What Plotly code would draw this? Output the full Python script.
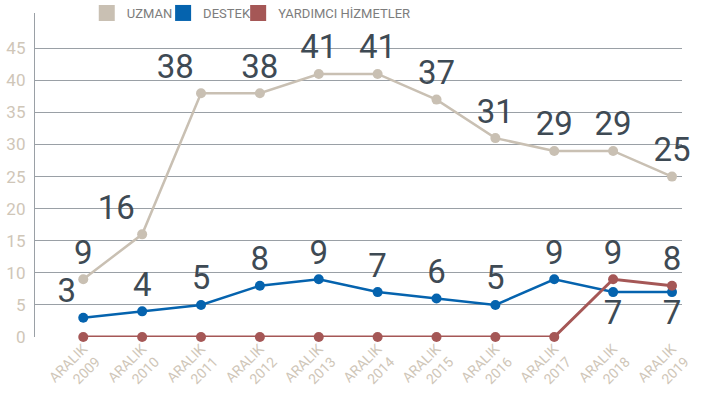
import plotly.graph_objects as go

categories = ["ARALIK<br>2009", "ARALIK<br>2010", "ARALIK<br>2011", "ARALIK<br>2012",
              "ARALIK<br>2013", "ARALIK<br>2014", "ARALIK<br>2015", "ARALIK<br>2016",
              "ARALIK<br>2017", "ARALIK<br>2018", "ARALIK<br>2019"]
uzman = [9, 16, 38, 38, 41, 41, 37, 31, 29, 29, 25]
destek = [3, 4, 5, 8, 9, 7, 6, 5, 9, 7, 7]
yardimci = [0, 0, 0, 0, 0, 0, 0, 0, 0, 9, 8]
yardimci_labels = ["", "", "", "", "", "", "", "", "", "9", "8"]
y_ticks = [0, 5, 10, 15, 20, 25, 30, 35, 40, 45]

C_UZ = "#c9c0b3"
C_DE = "#0563ae"
C_YA = "#a55756"
LABEL = "#3e4a54"
TICK = "#cfc6b8"
GRID = "#9aa0a6"
FONT = "Roboto"

lab_font = dict(family=FONT, size=33, color=LABEL)

fig = go.Figure()

fig.add_trace(go.Scatter(
    x=categories, y=uzman, mode="lines+markers+text",
    text=[str(v) for v in uzman],
    textposition=["top center", "top left", "top left"] + ["top center"] * 8,
    textfont=lab_font,
    line=dict(color=C_UZ, width=2.5), marker=dict(color=C_UZ, size=10),
    showlegend=False, cliponaxis=False))

fig.add_trace(go.Scatter(
    x=categories, y=destek, mode="lines+markers+text",
    text=[str(v) for v in destek],
    textposition=["top left"] + ["top center"] * 8 + ["bottom center"] * 2,
    textfont=lab_font,
    line=dict(color=C_DE, width=2.5), marker=dict(color=C_DE, size=10),
    showlegend=False, cliponaxis=False))

fig.add_trace(go.Scatter(
    x=categories, y=yardimci, mode="lines+markers+text",
    text=yardimci_labels,
    textposition="top center",
    textfont=lab_font,
    line=dict(color=C_YA, width=3), marker=dict(color=C_YA, size=10),
    showlegend=False, cliponaxis=False))

legend_items = [("UZMAN", C_UZ, "legend"), ("DESTEK", C_DE, "legend2"),
                ("YARDIMCI HİZMETLER", C_YA, "legend3")]
for name, col, lg in legend_items:
    fig.add_trace(go.Scatter(
        x=[None], y=[None], mode="markers", name=name, legend=lg,
        marker=dict(color=col, size=17, symbol="square")))

leg_common = dict(orientation="h", xanchor="left", y=1.0, yanchor="middle",
                  font=dict(family=FONT, size=13, color="#7d7d7d"),
                  bgcolor="rgba(0,0,0,0)", itemwidth=30)

fig.update_layout(
    width=715, height=403,
    margin=dict(l=35, r=33, t=13, b=66, autoexpand=False),
    paper_bgcolor="white", plot_bgcolor="white",
    font=dict(family=FONT),
    legend=dict(x=0.080, **leg_common),
    legend2=dict(x=0.198, **leg_common),
    legend3=dict(x=0.314, **leg_common),
    xaxis=dict(type="category", range=[-0.82, 10.17], showgrid=False, zeroline=False,
               showline=False, tickangle=-45, ticks="",
               tickfont=dict(family=FONT, size=14, color=TICK)),
    yaxis=dict(range=[0, 50.5], tickvals=y_ticks, showgrid=True, gridcolor=GRID,
               gridwidth=1.3, zeroline=False, showline=True, linecolor=GRID, linewidth=1.3,
               ticks="", ticklabelstandoff=5,
               tickfont=dict(family=FONT, size=17, color=TICK)),
)

fig.write_html("out.html", config={"displayModeBar": False},
               post_script="document.body.style.margin='0';")
